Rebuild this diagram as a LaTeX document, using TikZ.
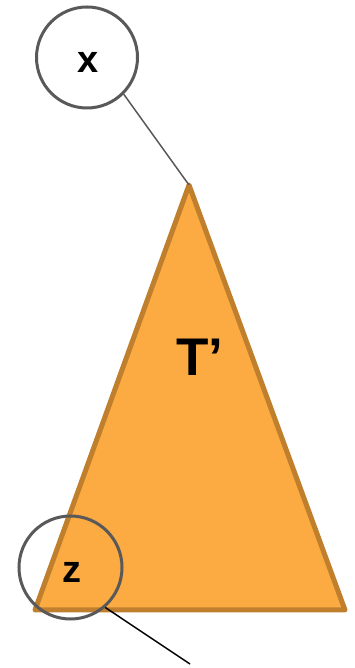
\documentclass[tikz,border=0pt]{standalone}
\usepackage{fontspec}
\setmainfont{Liberation Sans}
\definecolor{ringgray}{HTML}{595959}
\definecolor{trifill}{HTML}{FCAA42}
\definecolor{triedge}{HTML}{C07F2C}
\tikzset{
  ring/.style={circle, draw=ringgray, line width=3pt, minimum size=101pt, inner sep=0pt},
  ringtext/.style={font=\bfseries\fontsize{38}{38}\selectfont},
  link/.style={line width=1.5pt},
}
\begin{document}
\begin{tikzpicture}[x=1pt,y=1pt]
\useasboundingbox (0,0) rectangle (355,668);
\coordinate (apex) at (189,483);
\coordinate (bl) at (35,58);
\coordinate (br) at (345,58);
\coordinate (tail) at (190,4);
\draw[fill=trifill, draw=triedge, line width=5pt, line join=round] (apex) -- (bl) -- (br) -- cycle;
\node[font=\bfseries\fontsize{53}{53}\selectfont] (T) at (200,311) {T’};
\node[ring] (x) at (87,610.5) {};
\node[ringtext] (xl) at (88,606) {x};
\node[ring, minimum size=103pt] (z) at (70.5,100.5) {};
\node[ringtext] (zl) at (72,96) {z};
\draw[link, draw=ringgray] (x.-45) -- (apex);
\draw[link, black] (z.-49) -- (tail);
\end{tikzpicture}
\end{document}
